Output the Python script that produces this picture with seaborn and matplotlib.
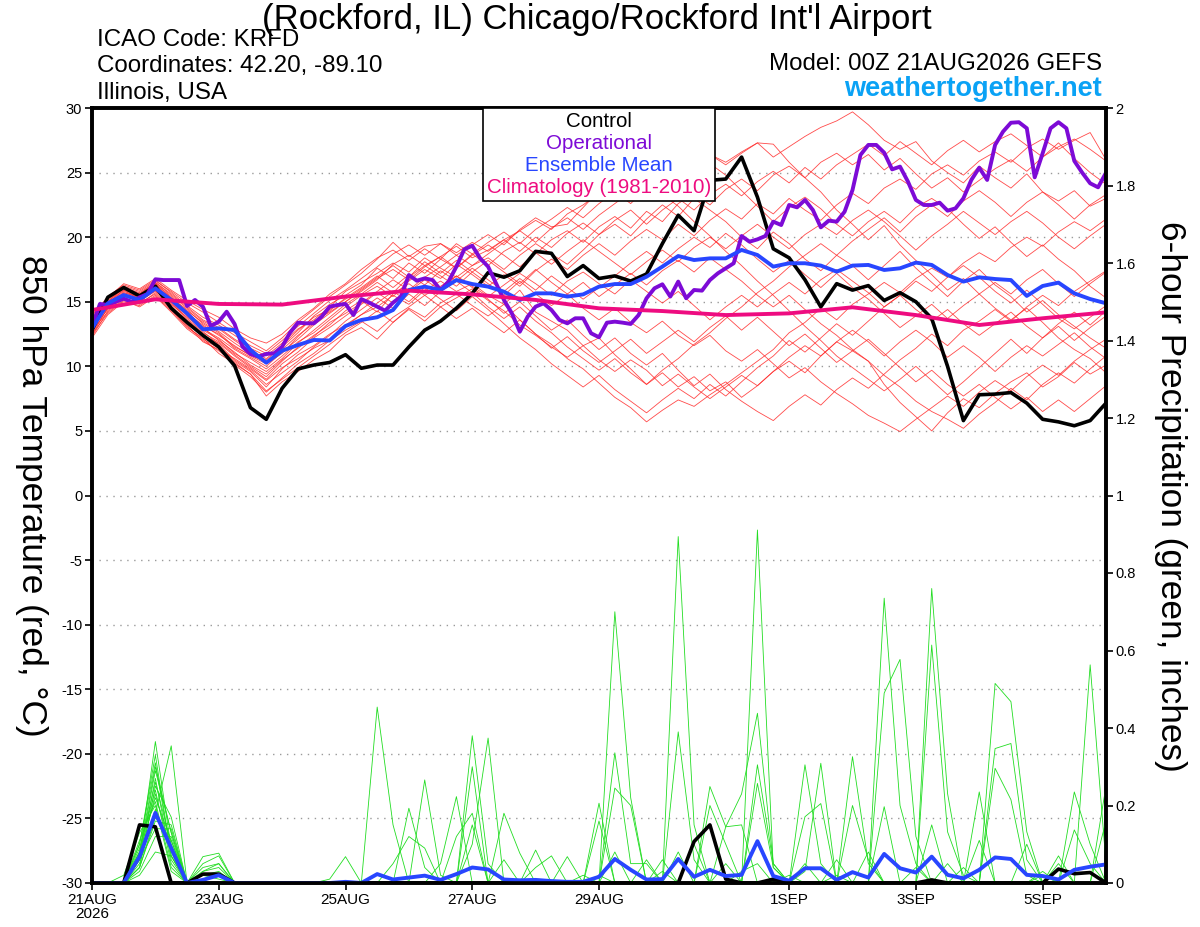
import numpy as np
import pandas as pd
import seaborn as sns
import matplotlib
matplotlib.use('Agg')
import matplotlib.pyplot as plt
from matplotlib.ticker import FormatStrFormatter
from matplotlib.offsetbox import TextArea, VPacker, AnchoredOffsetbox

# forecast hours
hours = list(range(0, 385, 6))
op_hours = list(range(0, 385, 3))
clim_hours = list(range(0, 385, 24))

tick_hours = [0, 48, 96, 144, 192, 264, 312, 360]
tick_labels = ['21AUG\n2026', '23AUG', '25AUG', '27AUG', '29AUG', '1SEP', '3SEP', '5SEP']

# 850 hPa temperature, control run (6-hourly)
control_t = [12.8, 15.35, 16.1, 15.45, 16.2, 14.5, 13.4, 12.4, 11.5,
             10.05, 6.8, 5.9, 8.3, 9.8, 10.1, 10.3, 10.9,
             9.85, 10.1, 10.1, 11.5, 12.8, 13.5, 14.5, 15.65,
             17.25, 16.9, 17.4, 18.9, 18.75, 16.95, 17.8, 16.8,
             17.0, 16.6, 17.15, 19.5, 21.7, 20.5, 24.4, 24.5,
             26.2, 23.1, 19.1, 18.4, 16.7, 14.6, 16.4, 15.9,
             16.25, 15.1, 15.7, 15.0, 13.7, 10.0, 5.8, 7.8,
             7.85, 7.97, 7.15, 5.9, 5.7, 5.4, 5.8, 7.15]

# ensemble mean temperature
mean_t = [12.94, 14.88, 15.52, 15.14, 16.04, 15.14, 14.1, 12.87, 12.94,
          12.81, 11.27, 10.28, 11.21, 11.65, 12.04, 12.0, 13.12,
          13.59, 13.8, 14.36, 15.91, 16.17, 15.91, 16.68, 16.37,
          16.17, 15.78, 15.14, 15.65, 15.65, 15.4, 15.57, 16.17,
          16.37, 16.37, 16.94, 17.72, 18.54, 18.23, 18.36, 18.36,
          19.01, 18.62, 17.72, 17.98, 17.98, 17.8, 17.33, 17.8,
          17.85, 17.46, 17.59, 18.03, 17.85, 17.07, 16.56, 16.89,
          16.76, 16.68, 15.45, 16.22, 16.48, 15.65, 15.21, 14.88]

# operational run (3-hourly)
oper_t = [13.07, 14.83, 14.75, 15.0, 15.24, 15.0, 15.34, 15.6, 16.74, 16.68,
          16.68, 16.68, 14.67, 15.14, 14.62, 13.12, 13.46, 14.23, 13.28, 11.52,
          10.96, 10.75, 10.96, 11.01, 11.52, 12.61, 13.38, 13.33, 13.33, 13.85,
          14.62, 14.75, 14.83, 13.97, 15.21, 14.93, 14.62, 14.31, 14.93, 15.4,
          17.07, 16.63, 16.81, 16.68, 15.91, 16.56, 17.72, 19.06, 19.34, 18.36,
          17.72, 16.43, 15.14, 14.1, 12.68, 13.85, 14.62, 14.88, 14.36, 13.59,
          13.33, 13.72, 13.72, 12.56, 12.25, 13.38, 13.46, 13.38, 13.28, 13.97,
          15.27, 16.04, 16.35, 15.4, 16.56, 15.27, 15.91, 15.86, 16.68, 17.2,
          17.59, 17.98, 20.09, 19.65, 19.83, 20.09, 21.2, 20.94, 22.49, 22.31,
          22.88, 22.1, 20.76, 21.28, 21.2, 21.97, 23.65, 26.36, 27.14, 27.14,
          26.54, 25.25, 25.46, 24.3, 22.88, 22.49, 22.49, 22.67, 22.05, 22.23,
          23.01, 24.43, 25.38, 24.43, 27.14, 28.17, 28.86, 28.9, 28.43, 24.63,
          26.49, 28.43, 28.9, 28.43, 25.9, 24.99, 24.17, 23.86, 24.99]

# climatology 1981-2010 (daily)
clim_t = [14.36, 15.19, 14.83, 14.78, 15.4, 15.86, 15.57, 15.14, 14.49,
          14.28, 13.97, 14.1, 14.57, 13.97, 13.2, 13.72, 14.18]

# ensemble members, temperature
m01 = [13.0, 14.8, 15.8, 15.4, 16.3, 15.2, 14.1, 13.2, 12.4,
       11.6, 10.8, 10.2, 11.0, 12.3, 13.5, 14.2, 15.0,
       15.8, 16.7, 17.9, 18.6, 17.8, 18.5, 19.3, 18.4,
       19.0, 19.8, 20.5, 21.3, 20.6, 21.8, 22.5, 23.4,
       22.8, 24.1, 23.5, 25.0, 24.2, 25.6, 26.4, 25.8,
       26.6, 27.3, 26.2, 27.0, 27.8, 28.5, 29.0, 29.7,
       28.7, 27.5, 26.8, 27.4, 25.9, 25.0, 24.2, 25.5,
       24.6, 23.8, 24.9, 23.5, 22.8, 23.6, 22.4, 23.0]
m02 = [12.6, 14.5, 15.5, 15.0, 15.9, 14.6, 13.5, 12.3, 11.6,
       10.4, 9.6, 8.4, 9.8, 10.9, 11.6, 12.5, 13.2,
       14.0, 14.6, 15.5, 14.8, 15.9, 16.6, 15.8, 16.4,
       15.5, 14.8, 15.9, 14.2, 13.5, 12.8, 11.6, 12.2,
       10.9, 9.8, 8.6, 9.5, 8.4, 9.2, 8.1, 8.8,
       7.6, 8.5, 9.6, 10.4, 9.5, 10.8, 11.9, 11.2,
       10.4, 8.6, 7.2, 6.1, 5.0, 6.4, 7.5, 6.8,
       7.9, 8.8, 9.5, 8.4, 9.2, 10.3, 9.4, 10.1]
m03 = [13.5, 15.0, 16.0, 15.6, 16.5, 15.6, 14.6, 13.6, 13.0,
       12.1, 11.4, 10.8, 11.8, 12.9, 13.6, 14.6, 15.8,
       16.5, 17.2, 18.0, 17.3, 18.4, 17.6, 16.9, 17.8,
       18.4, 17.5, 18.6, 19.5, 18.7, 17.9, 19.0, 20.2,
       21.0, 20.1, 21.4, 22.5, 21.6, 23.0, 22.1, 21.2,
       20.0, 19.1, 20.4, 19.5, 18.3, 17.4, 18.6, 17.8,
       16.7, 17.8, 18.9, 17.6, 16.5, 15.4, 16.6, 17.5,
       16.3, 15.4, 14.2, 15.1, 14.0, 13.1, 12.2, 11.4]
m04 = [12.8, 14.2, 15.2, 14.9, 15.6, 14.4, 13.0, 12.2, 11.0,
       10.2, 9.4, 7.7, 8.8, 9.6, 10.5, 11.2, 12.4,
       13.0, 12.1, 13.4, 14.5, 13.8, 14.9, 15.6, 14.7,
       13.9, 14.8, 13.6, 12.5, 11.7, 10.6, 9.8, 8.7,
       7.6, 6.8, 5.7, 6.6, 7.4, 6.9, 7.8, 8.6,
       9.5, 10.4, 11.3, 12.6, 13.4, 14.5, 13.6, 14.8,
       15.6, 16.5, 15.7, 16.8, 17.6, 16.9, 18.0, 18.8,
       18.1, 19.2, 20.0, 19.3, 20.4, 21.2, 20.5, 21.4]
m05 = [13.8, 15.2, 16.2, 15.8, 16.6, 15.8, 14.9, 14.2, 13.4,
       12.6, 11.9, 11.2, 12.2, 13.4, 14.4, 15.4, 16.3,
       17.2, 18.3, 19.6, 18.5, 19.3, 19.5, 18.6, 19.4,
       20.2, 19.4, 20.6, 21.5, 20.8, 21.0, 22.3, 23.6,
       22.9, 24.5, 23.7, 25.2, 24.3, 25.9, 26.4, 25.6,
       26.5, 27.3, 27.2, 25.8, 24.6, 23.5, 22.1, 21.0,
       19.8, 20.9, 19.4, 18.2, 17.1, 15.9, 16.8, 15.6,
       14.5, 13.6, 14.5, 13.4, 12.2, 11.3, 10.6, 9.5]
m06 = [12.4, 14.6, 15.6, 15.2, 16.0, 14.9, 13.6, 12.6, 11.9,
       10.9, 10.0, 9.2, 10.4, 11.5, 12.4, 13.2, 14.3,
       15.1, 14.2, 15.6, 16.4, 15.5, 16.2, 17.0, 16.1,
       15.2, 14.1, 15.0, 13.9, 12.8, 13.6, 12.4, 11.3,
       12.2, 11.0, 10.1, 11.0, 9.7, 8.5, 9.4, 8.2,
       7.3, 6.5, 5.8, 6.9, 7.8, 7.0, 8.2, 9.1,
       8.3, 9.4, 10.5, 11.4, 12.5, 11.6, 12.8, 13.5,
       14.4, 13.5, 14.6, 15.5, 14.7, 15.8, 16.6, 17.4]
m07 = [13.2, 14.9, 15.9, 15.5, 16.4, 15.3, 14.3, 13.4, 12.7,
       11.8, 11.0, 10.5, 11.5, 12.6, 13.9, 14.8, 15.5,
       16.3, 17.6, 16.8, 18.0, 17.2, 18.3, 17.6, 18.7,
       17.8, 18.9, 19.6, 18.7, 19.8, 20.5, 19.6, 20.8,
       21.6, 20.7, 22.0, 21.2, 22.6, 23.4, 22.5, 23.7,
       24.5, 23.6, 24.8, 25.5, 24.6, 25.8, 26.5, 25.6,
       26.4, 25.2, 26.1, 24.9, 23.8, 24.6, 23.5, 24.4,
       25.3, 26.0, 25.1, 26.2, 27.0, 27.6, 26.8, 25.9]
m08 = [13.0, 14.4, 15.4, 15.1, 15.8, 14.8, 13.8, 12.9, 12.2,
       11.3, 10.6, 9.8, 10.8, 11.9, 12.6, 13.6, 14.6,
       15.5, 16.2, 15.4, 16.6, 17.5, 16.8, 17.9, 17.1,
       16.2, 17.1, 16.2, 17.4, 18.3, 17.5, 18.6, 19.5,
       18.6, 19.7, 20.6, 19.8, 21.0, 20.1, 21.3, 22.2,
       21.4, 22.6, 21.8, 23.0, 22.1, 21.3, 22.5, 23.4,
       22.6, 23.8, 24.5, 23.7, 24.9, 25.6, 24.8, 25.9,
       26.6, 25.8, 26.9, 27.6, 26.8, 27.5, 28.1, 26.0]
m09 = [12.9, 14.7, 15.7, 15.3, 16.1, 15.0, 13.9, 12.8, 12.1,
       11.0, 10.3, 9.6, 10.6, 11.8, 12.8, 13.8, 14.8,
       15.6, 16.5, 15.7, 16.9, 17.8, 17.0, 16.2, 17.3,
       16.4, 15.5, 16.6, 15.6, 14.7, 15.6, 14.5, 13.6,
       14.5, 13.4, 12.6, 13.5, 12.4, 11.6, 12.4, 11.2,
       10.4, 11.3, 10.2, 9.1, 9.9, 8.8, 7.9, 7.1,
       6.2, 5.6, 4.95, 5.9, 6.8, 7.7, 6.9, 8.0,
       8.9, 8.1, 9.2, 10.1, 9.3, 10.4, 11.3, 12.1]
m10 = [13.6, 15.1, 16.1, 15.7, 16.5, 15.5, 14.5, 13.5, 12.9,
       12.0, 11.2, 10.6, 11.6, 12.8, 13.8, 14.4, 15.2,
       16.0, 16.9, 17.8, 16.9, 18.1, 17.2, 18.2, 17.3,
       18.2, 17.3, 16.4, 17.5, 16.5, 15.6, 16.5, 15.4,
       16.3, 17.2, 16.3, 17.4, 18.2, 17.3, 18.4, 17.5,
       16.6, 15.5, 14.6, 15.5, 14.4, 13.3, 12.4, 11.3,
       10.4, 9.3, 8.4, 7.3, 6.5, 5.9, 5.2, 6.3,
       7.2, 8.3, 7.4, 8.6, 9.5, 8.7, 9.8, 10.8]
m11 = [13.3, 14.6, 15.6, 15.0, 15.9, 14.7, 13.4, 12.4, 11.8,
       10.8, 9.9, 9.0, 10.2, 11.1, 12.2, 13.0, 13.9,
       14.8, 15.7, 14.9, 15.8, 16.7, 15.9, 17.0, 16.2,
       15.4, 16.3, 17.2, 16.4, 15.5, 16.6, 17.3, 16.4,
       15.6, 16.7, 15.8, 14.9, 15.8, 14.7, 13.6, 14.6,
       15.5, 14.6, 15.6, 16.5, 15.6, 16.7, 17.5, 16.6,
       15.7, 14.6, 15.5, 14.4, 13.5, 14.4, 13.3, 12.4,
       13.3, 14.2, 13.1, 12.2, 13.1, 12.0, 13.0, 13.9]
m12 = [14.0, 15.3, 16.4, 16.0, 16.8, 15.9, 15.1, 14.4, 13.8,
       12.9, 12.2, 11.8, 12.5, 13.6, 14.5, 15.6, 16.4,
       17.5, 18.4, 19.0, 18.2, 19.1, 18.3, 19.5, 18.7,
       19.6, 20.4, 19.5, 20.6, 21.4, 22.3, 21.5, 22.6,
       23.5, 22.6, 23.8, 24.6, 23.7, 24.9, 25.7, 24.8,
       23.6, 22.4, 21.2, 22.3, 23.1, 22.2, 21.0, 20.1,
       21.2, 22.0, 21.1, 22.3, 23.0, 22.2, 21.0, 19.9,
       20.8, 19.6, 18.5, 19.4, 18.3, 17.4, 16.2, 15.3]
m13 = [12.3, 14.3, 15.3, 14.8, 15.7, 14.5, 13.2, 11.9, 11.3,
       10.6, 9.8, 8.9, 9.9, 10.6, 11.4, 12.0, 12.8,
       13.5, 12.7, 13.8, 14.6, 15.5, 14.6, 15.3, 16.0,
       15.1, 14.3, 13.2, 12.4, 11.5, 10.7, 11.6, 10.5,
       9.6, 10.5, 9.7, 8.5, 9.4, 8.4, 7.5, 8.4,
       9.3, 8.5, 9.6, 10.7, 11.6, 10.8, 11.9, 12.8,
       11.9, 10.8, 11.9, 12.8, 11.9, 10.7, 11.6, 10.7,
       9.6, 10.7, 11.6, 10.8, 11.7, 12.6, 11.5, 10.6]
m14 = [13.7, 15.0, 16.1, 15.6, 16.4, 15.4, 14.2, 13.1, 12.5,
       11.4, 10.7, 10.0, 11.1, 12.1, 13.2, 14.1, 15.0,
       15.9, 16.8, 17.5, 16.7, 17.7, 18.5, 17.6, 18.6,
       19.4, 18.6, 17.7, 18.8, 17.9, 18.9, 19.8, 18.9,
       18.0, 17.1, 18.1, 19.0, 18.1, 19.2, 20.0, 19.1,
       20.1, 21.0, 20.0, 19.1, 20.2, 21.0, 20.2, 21.3,
       22.1, 21.2, 20.1, 19.0, 20.1, 21.0, 22.0, 21.1,
       20.2, 21.2, 22.0, 21.1, 20.0, 19.1, 20.1, 21.0]
m15 = [12.7, 14.9, 15.9, 15.2, 16.2, 15.1, 14.0, 13.0, 12.0,
       11.1, 10.1, 9.4, 10.5, 11.4, 12.3, 13.4, 14.1,
       14.9, 15.8, 16.7, 15.9, 16.9, 17.7, 18.6, 17.8,
       18.7, 19.6, 20.5, 19.6, 20.7, 21.5, 20.6, 21.7,
       22.6, 23.5, 24.4, 23.3, 22.4, 21.2, 20.1, 18.9,
       17.8, 16.6, 15.5, 14.3, 13.1, 12.0, 10.8, 9.9,
       9.0, 8.1, 9.0, 10.0, 8.9, 7.8, 8.8, 9.9,
       11.0, 12.1, 11.0, 12.2, 13.3, 14.2, 13.2, 14.3]
m16 = [13.4, 14.5, 15.5, 15.3, 16.0, 15.0, 13.7, 12.7, 11.7,
       10.5, 9.7, 8.6, 9.5, 10.4, 11.5, 12.4, 13.5,
       14.4, 15.3, 14.5, 15.6, 14.7, 15.8, 16.6, 15.7,
       14.6, 13.7, 14.6, 13.5, 12.6, 11.5, 10.6, 9.7,
       10.6, 9.5, 8.6, 9.7, 10.6, 11.7, 12.6, 13.7,
       14.6, 15.7, 16.6, 17.7, 18.6, 19.5, 18.6, 19.7,
       20.6, 21.5, 20.4, 21.6, 22.5, 21.6, 22.8, 23.6,
       22.7, 21.6, 22.7, 23.5, 22.5, 21.4, 22.5, 23.3]
m17 = [12.5, 14.1, 15.1, 14.6, 15.4, 14.2, 12.9, 12.0, 11.2,
       10.3, 9.4, 8.1, 9.0, 9.9, 10.8, 11.7, 12.6,
       13.4, 14.3, 13.4, 14.4, 13.5, 14.6, 13.7, 14.5,
       13.5, 12.6, 13.6, 12.5, 11.4, 12.3, 11.2, 10.3,
       11.2, 12.1, 11.0, 11.9, 12.8, 11.9, 13.0, 13.9,
       12.8, 13.8, 12.7, 11.6, 12.5, 11.4, 10.3, 11.2,
       12.1, 11.0, 9.9, 8.8, 9.7, 8.6, 7.7, 8.6,
       7.6, 6.7, 7.6, 6.5, 7.4, 6.5, 7.5, 8.5]
m18 = [13.9, 15.4, 16.3, 15.9, 16.7, 15.7, 14.7, 13.8, 13.2,
       12.4, 11.6, 11.0, 12.0, 13.1, 14.1, 15.1, 15.9,
       16.8, 17.7, 18.7, 19.4, 18.6, 19.5, 18.8, 19.6,
       18.9, 19.8, 18.9, 20.0, 19.2, 20.3, 21.1, 20.2,
       21.3, 22.1, 21.0, 22.1, 23.0, 22.1, 23.3, 24.1,
       23.2, 24.3, 25.1, 24.2, 25.4, 24.5, 25.6, 26.4,
       27.2, 26.3, 27.4, 26.5, 25.6, 26.7, 27.5, 26.6,
       27.4, 28.0, 27.1, 26.2, 27.3, 26.1, 25.0, 24.1]
m19 = [13.1, 14.7, 15.7, 15.4, 16.2, 15.3, 14.4, 13.3, 12.6,
       11.5, 10.9, 10.3, 11.3, 12.4, 13.3, 14.3, 15.3,
       16.1, 17.0, 16.1, 17.1, 16.3, 17.4, 16.6, 17.6,
       16.7, 15.8, 16.8, 15.9, 17.0, 16.1, 15.2, 16.1,
       17.0, 18.0, 18.9, 18.0, 19.1, 20.0, 19.2, 20.3,
       19.4, 18.3, 17.3, 18.2, 17.1, 16.1, 17.2, 16.1,
       15.2, 14.1, 13.0, 13.9, 14.8, 13.7, 14.7, 15.6,
       16.5, 15.6, 16.7, 17.5, 16.4, 15.4, 16.4, 17.3]
m20 = [12.2, 14.0, 15.0, 14.7, 15.5, 14.3, 13.1, 12.1, 11.4,
       10.1, 9.2, 8.0, 9.1, 10.2, 11.0, 12.0, 13.1,
       14.0, 14.9, 15.8, 15.0, 16.1, 15.2, 14.3, 15.4,
       14.4, 13.3, 12.2, 11.3, 10.2, 9.3, 8.4, 9.3,
       8.2, 7.3, 6.4, 7.4, 8.3, 7.5, 8.6, 7.7,
       8.8, 9.9, 10.8, 12.0, 11.1, 12.2, 13.3, 12.4,
       13.5, 14.6, 15.5, 16.6, 15.8, 16.9, 17.8, 16.9,
       15.8, 14.9, 15.9, 14.8, 13.7, 12.9, 13.8, 14.7]
members_t = [m01, m02, m03, m04, m05, m06, m07, m08, m09, m10,
             m11, m12, m13, m14, m15, m16, m17, m18, m19, m20]

# 6-hour precipitation (inches)
control_p = [0, 0, 0, 0.15, 0.145, 0, 0, 0.023, 0.023,
             0, 0, 0, 0, 0, 0, 0, 0,
             0, 0, 0, 0, 0, 0, 0, 0,
             0, 0, 0, 0, 0, 0, 0, 0,
             0, 0, 0, 0, 0, 0.107, 0.15, 0.01,
             0, 0, 0.01, 0, 0, 0, 0, 0,
             0, 0, 0, 0, 0.008, 0, 0, 0,
             0, 0, 0, 0, 0.036, 0.024, 0.027, 0]
mean_p = [0, 0, 0, 0.068, 0.181, 0.09, 0, 0.008, 0.02,
          0, 0, 0, 0, 0, 0, 0, 0.003,
          0, 0.023, 0.009, 0.014, 0.019, 0.008, 0.023, 0.04,
          0.035, 0.009, 0.007, 0.008, 0.005, 0.003, 0.003, 0.016,
          0.062, 0.034, 0.009, 0.010, 0.062, 0.016, 0.034, 0.018,
          0.021, 0.108, 0.018, 0.006, 0.038, 0.038, 0.008, 0.028,
          0.014, 0.075, 0.038, 0.027, 0.068, 0.021, 0.012, 0.034,
          0.066, 0.062, 0.021, 0.018, 0.009, 0.034, 0.042, 0.048]

p01 = [0, 0, 0, 0.07, 0.365, 0.09, 0, 0, 0,
       0, 0, 0, 0, 0, 0, 0, 0,
       0, 0, 0, 0, 0, 0, 0, 0.38,
       0.05, 0, 0, 0, 0, 0, 0, 0,
       0.336, 0.05, 0.05, 0, 0, 0, 0, 0,
       0, 0, 0, 0, 0, 0, 0, 0,
       0.08, 0, 0, 0, 0, 0, 0, 0,
       0.296, 0.215, 0.02, 0, 0, 0, 0, 0]
p02 = [0, 0, 0.02, 0.13, 0.2, 0.03, 0, 0.05, 0.07,
       0, 0, 0, 0, 0, 0, 0, 0,
       0, 0, 0, 0, 0, 0, 0, 0,
       0, 0, 0, 0.085, 0, 0, 0, 0,
       0, 0, 0, 0, 0, 0, 0, 0,
       0.03, 0.05, 0, 0, 0, 0, 0.06, 0,
       0, 0.49, 0.577, 0.12, 0, 0, 0, 0,
       0, 0, 0, 0, 0, 0, 0, 0]
p03 = [0, 0, 0, 0.06, 0.18, 0.354, 0, 0, 0,
       0, 0, 0, 0, 0, 0, 0, 0,
       0, 0, 0, 0.193, 0.04, 0, 0, 0,
       0, 0, 0, 0, 0, 0, 0, 0.02,
       0, 0, 0, 0, 0, 0, 0.2, 0.1,
       0, 0, 0, 0, 0, 0, 0, 0,
       0, 0, 0, 0, 0.15, 0, 0.04, 0,
       0, 0, 0, 0, 0, 0, 0, 0]
p04 = [0, 0, 0, 0.08, 0.3, 0.13, 0, 0.02, 0.01,
       0, 0, 0, 0, 0, 0, 0, 0,
       0, 0, 0, 0, 0, 0, 0, 0.15,
       0, 0, 0, 0, 0, 0, 0, 0,
       0, 0, 0, 0, 0.894, 0.15, 0, 0,
       0, 0, 0, 0, 0, 0, 0, 0,
       0, 0, 0, 0, 0, 0, 0, 0,
       0, 0, 0.1, 0, 0, 0, 0, 0.16]
p05 = [0, 0, 0, 0.04, 0.25, 0.17, 0, 0, 0,
       0, 0, 0, 0, 0, 0, 0.01, 0.068,
       0, 0, 0, 0, 0, 0, 0, 0,
       0, 0, 0, 0, 0, 0, 0.02, 0,
       0, 0, 0, 0, 0, 0, 0, 0,
       0, 0, 0, 0, 0, 0, 0, 0.326,
       0.05, 0, 0, 0, 0, 0, 0, 0,
       0, 0, 0, 0, 0.05, 0, 0, 0]
p06 = [0, 0, 0, 0.1, 0.33, 0.07, 0, 0.068, 0.077,
       0, 0, 0, 0, 0, 0, 0, 0,
       0, 0, 0, 0, 0, 0, 0, 0,
       0, 0, 0, 0, 0, 0, 0, 0.206,
       0, 0, 0, 0, 0, 0, 0, 0,
       0, 0.305, 0.05, 0, 0, 0, 0, 0,
       0, 0, 0, 0, 0, 0, 0, 0,
       0, 0, 0, 0.03, 0, 0, 0, 0]
p07 = [0, 0, 0, 0.04, 0.16, 0.15, 0, 0, 0,
       0, 0, 0, 0, 0, 0, 0, 0,
       0, 0.454, 0.15, 0, 0, 0, 0, 0,
       0, 0, 0, 0, 0, 0, 0, 0,
       0, 0, 0, 0, 0, 0, 0, 0,
       0, 0, 0, 0.02, 0, 0, 0, 0,
       0, 0, 0, 0, 0.614, 0.132, 0.02, 0,
       0, 0, 0, 0, 0, 0, 0, 0]
p08 = [0, 0, 0, 0.08, 0.22, 0.11, 0, 0, 0,
       0, 0, 0, 0, 0, 0, 0, 0,
       0, 0, 0, 0, 0, 0, 0, 0,
       0, 0.18, 0.077, 0, 0, 0, 0, 0,
       0, 0, 0, 0, 0, 0, 0, 0,
       0, 0, 0, 0, 0.305, 0.05, 0, 0,
       0, 0, 0, 0, 0, 0, 0, 0,
       0, 0, 0, 0, 0, 0, 0, 0]
p09 = [0, 0, 0, 0.06, 0.27, 0.06, 0, 0.03, 0.04,
       0, 0, 0, 0, 0, 0, 0, 0,
       0, 0, 0.05, 0.12, 0.09, 0, 0, 0,
       0, 0, 0, 0, 0, 0, 0, 0,
       0.7, 0.22, 0, 0, 0, 0, 0, 0,
       0, 0, 0, 0, 0, 0, 0.02, 0,
       0, 0, 0, 0, 0, 0, 0, 0,
       0, 0, 0, 0.02, 0, 0, 0, 0]
p10 = [0, 0, 0, 0.03, 0.12, 0.12, 0, 0, 0,
       0, 0, 0, 0, 0, 0, 0, 0,
       0, 0, 0, 0, 0, 0, 0, 0.1,
       0.374, 0, 0, 0, 0, 0, 0, 0,
       0, 0, 0, 0.03, 0, 0, 0, 0,
       0, 0, 0, 0, 0, 0, 0, 0.2,
       0.06, 0, 0, 0, 0, 0, 0, 0,
       0.515, 0.468, 0.132, 0, 0, 0, 0, 0]
p11 = [0, 0, 0, 0.09, 0.24, 0.05, 0, 0.02, 0.03,
       0, 0, 0, 0, 0, 0, 0, 0,
       0, 0, 0, 0, 0, 0, 0, 0,
       0, 0.06, 0, 0, 0, 0, 0, 0,
       0, 0, 0, 0, 0.39, 0.06, 0, 0,
       0, 0, 0, 0, 0, 0, 0, 0,
       0, 0, 0, 0.04, 0, 0, 0, 0,
       0, 0, 0, 0, 0, 0.235, 0.1, 0]
p12 = [0, 0, 0, 0.05, 0.19, 0.09, 0, 0, 0,
       0, 0, 0, 0, 0, 0, 0, 0,
       0, 0, 0, 0, 0.266, 0.02, 0, 0,
       0, 0, 0, 0, 0, 0, 0, 0,
       0.08, 0, 0, 0, 0, 0, 0, 0,
       0, 0, 0, 0, 0.171, 0.205, 0, 0,
       0, 0, 0, 0, 0, 0, 0, 0.11,
       0, 0, 0, 0, 0, 0, 0, 0.25]
p13 = [0, 0, 0, 0.07, 0.29, 0.13, 0, 0.03, 0.05,
       0, 0, 0, 0, 0, 0, 0, 0,
       0, 0, 0, 0, 0, 0, 0, 0,
       0, 0, 0, 0.04, 0.07, 0, 0, 0,
       0, 0, 0, 0, 0, 0, 0, 0.145,
       0.23, 0.438, 0.05, 0, 0, 0, 0, 0,
       0, 0, 0, 0, 0, 0, 0, 0,
       0, 0, 0, 0, 0.07, 0, 0, 0]
p14 = [0, 0, 0, 0.11, 0.21, 0.04, 0, 0.04, 0.05,
       0, 0, 0, 0, 0, 0, 0, 0,
       0, 0, 0, 0, 0, 0, 0, 0,
       0, 0, 0, 0, 0, 0, 0, 0.16,
       0, 0, 0, 0, 0, 0, 0, 0.05,
       0, 0, 0, 0, 0, 0, 0, 0,
       0, 0.735, 0.2, 0.05, 0, 0, 0, 0,
       0, 0, 0, 0, 0, 0, 0, 0]
p15 = [0, 0, 0, 0.02, 0.08, 0.07, 0, 0, 0,
       0, 0, 0, 0, 0, 0, 0, 0,
       0, 0, 0, 0, 0, 0.05, 0.223, 0,
       0, 0, 0, 0, 0, 0, 0, 0,
       0, 0, 0.06, 0, 0, 0, 0, 0,
       0, 0.911, 0.04, 0, 0, 0, 0, 0,
       0, 0, 0, 0, 0, 0, 0, 0,
       0, 0, 0, 0, 0, 0, 0, 0]
p16 = [0, 0, 0, 0.08, 0.26, 0.1, 0, 0, 0,
       0, 0, 0, 0, 0, 0, 0, 0,
       0, 0, 0, 0, 0, 0, 0, 0.3,
       0, 0, 0, 0, 0, 0, 0, 0,
       0, 0, 0, 0, 0.08, 0, 0, 0,
       0, 0, 0, 0, 0.05, 0, 0, 0,
       0, 0, 0, 0, 0.76, 0.231, 0, 0,
       0, 0, 0, 0, 0, 0, 0, 0]
p17 = [0, 0, 0, 0.06, 0.14, 0.14, 0, 0, 0,
       0, 0, 0, 0, 0, 0, 0, 0,
       0, 0, 0, 0, 0, 0, 0, 0,
       0, 0, 0, 0, 0, 0.068, 0, 0,
       0, 0, 0, 0, 0, 0.1, 0, 0,
       0, 0, 0, 0, 0.03, 0.309, 0, 0,
       0, 0, 0, 0, 0, 0, 0, 0,
       0.347, 0.36, 0.06, 0, 0, 0, 0, 0]
p18 = [0, 0, 0, 0.1, 0.31, 0.07, 0, 0.01, 0.02,
       0, 0, 0, 0, 0, 0, 0, 0,
       0, 0, 0, 0, 0, 0, 0, 0,
       0, 0, 0, 0, 0, 0, 0, 0,
       0.245, 0.2, 0, 0, 0, 0, 0, 0,
       0, 0, 0, 0, 0, 0, 0, 0,
       0, 0.197, 0, 0, 0, 0, 0, 0,
       0, 0, 0, 0, 0, 0.137, 0.05, 0]
p19 = [0, 0, 0, 0.04, 0.17, 0.11, 0, 0, 0,
       0, 0, 0, 0, 0, 0, 0, 0,
       0, 0, 0, 0, 0, 0, 0.12, 0.18,
       0, 0, 0, 0, 0, 0, 0, 0,
       0, 0, 0, 0, 0, 0, 0, 0,
       0, 0.257, 0.04, 0, 0, 0, 0, 0,
       0, 0, 0, 0, 0, 0, 0, 0.235,
       0, 0, 0, 0, 0, 0, 0, 0]
p20 = [0, 0, 0, 0.06, 0.23, 0.08, 0, 0, 0,
       0, 0, 0, 0, 0, 0, 0, 0,
       0, 0, 0, 0, 0, 0, 0, 0,
       0, 0, 0, 0, 0, 0, 0, 0,
       0, 0, 0, 0.06, 0, 0, 0.249, 0.145,
       0.15, 0, 0, 0, 0, 0, 0, 0,
       0, 0, 0, 0, 0, 0.05, 0, 0,
       0, 0, 0, 0, 0, 0, 0.563, 0.05]
members_p = [p01, p02, p03, p04, p05, p06, p07, p08, p09, p10,
             p11, p12, p13, p14, p15, p16, p17, p18, p19, p20]

legend_labels = ['Control', 'Operational', 'Ensemble Mean', 'Climatology (1981-2010)']

RED = '#ff2a2a'
GREEN = '#22dd22'
PURPLE = '#7d0ad6'
BLUE = '#2846ff'
PINK = '#ee0c80'

# long tables for the ensemble members
rows_t = []
rows_p = []
for k, (mt, mp) in enumerate(zip(members_t, members_p)):
    for h, t, p in zip(hours, mt, mp):
        rows_t.append((k, h, t))
        rows_p.append((k, h, p))
df_t = pd.DataFrame(rows_t, columns=['member', 'hour', 'temp'])
df_p = pd.DataFrame(rows_p, columns=['member', 'hour', 'precip'])

sns.set_theme(style='ticks', rc={'text.color': 'black', 'axes.labelcolor': 'black',
                                 'xtick.color': 'black', 'ytick.color': 'black',
                                 'axes.unicode_minus': False})
plt.rcParams['font.family'] = ['Liberation Sans', 'DejaVu Sans']

fig = plt.figure(figsize=(12, 9.27), dpi=100)
ax = fig.add_axes([92 / 1200, 44 / 927, 1014 / 1200, 775 / 927])
ax2 = ax.twinx()

# temperature
sns.lineplot(data=df_t, x='hour', y='temp', units='member', estimator=None,
             color=RED, linewidth=0.6, alpha=0.85, ax=ax, legend=False)
sns.lineplot(x=hours, y=control_t, color='black', linewidth=2.6, ax=ax)
sns.lineplot(x=op_hours, y=oper_t, color=PURPLE, linewidth=2.8, ax=ax)
sns.lineplot(x=hours, y=mean_t, color=BLUE, linewidth=2.8, ax=ax)
sns.lineplot(x=clim_hours, y=clim_t, color=PINK, linewidth=2.8, ax=ax)

# precipitation
sns.lineplot(data=df_p, x='hour', y='precip', units='member', estimator=None,
             color=GREEN, linewidth=0.6, ax=ax2, legend=False)
sns.lineplot(x=hours, y=control_p, color='black', linewidth=2.6, ax=ax2)
sns.lineplot(x=hours, y=mean_p, color=BLUE, linewidth=2.8, ax=ax2)

ax.set_xlim(0, 384)
ax.set_ylim(-30, 30)
ax2.set_ylim(0, 2)
ax.set_yticks(range(-30, 31, 5))
ax2.set_yticks(np.arange(0, 2.01, 0.2))
ax2.yaxis.set_major_formatter(FormatStrFormatter('%g'))
ax.set_xticks(tick_hours)
ax.set_xticklabels(tick_labels)
ax.set_xlabel('')
ax.set_ylabel('')
ax2.set_ylabel('')

ax.yaxis.grid(True, linestyle=(0, (1, 4)), color='#9a9a9a', linewidth=1.0)
ax.xaxis.grid(False)

for a in (ax, ax2):
    for s in a.spines.values():
        s.set_linewidth(2.6)
        s.set_color('black')
ax.tick_params(axis='y', labelsize=10.5, length=5, width=1.2, direction='out', pad=2, colors='black')
ax.tick_params(axis='x', labelsize=11, length=5, width=1.2, direction='out', pad=2, colors='black')
ax2.tick_params(axis='y', labelsize=10.5, length=5, width=1.2, direction='out', pad=2, colors='black')
for lbl in ax.get_xticklabels():
    lbl.set_linespacing(1.0)

# legend box
items = [TextArea(t, textprops=dict(color=c, fontsize=14.8))
         for t, c in zip(legend_labels, ['black', PURPLE, BLUE, PINK])]
pack = VPacker(children=items, align='center', pad=0, sep=2)
box = AnchoredOffsetbox(loc='upper center', child=pack, pad=0.28, borderpad=0,
                        frameon=True, bbox_to_anchor=(0.5, 1.0),
                        bbox_transform=ax2.transAxes)
box.patch.set_boxstyle('square', pad=0)
box.patch.set_edgecolor('black')
box.patch.set_linewidth(1.2)
box.set_zorder(10)
ax2.add_artist(box)

# header texts
fig.text(0.497, 1 - 19 / 927, "(Rockford, IL) Chicago/Rockford Int'l Airport",
         ha='center', va='center', fontsize=25)
fig.text(97 / 1200, 1 - 40 / 927, 'ICAO Code: KRFD', ha='left', va='center', fontsize=17.4)
fig.text(97 / 1200, 1 - 66 / 927, 'Coordinates: 42.20, -89.10', ha='left', va='center', fontsize=17.4)
fig.text(97 / 1200, 1 - 93 / 927, 'Illinois, USA', ha='left', va='center', fontsize=17.4)
fig.text(1102 / 1200, 1 - 64 / 927, 'Model: 00Z 21AUG2026 GEFS', ha='right', va='center', fontsize=17.4)
fig.text(1102 / 1200, 1 - 89 / 927, 'weathertogether.net', ha='right', va='center',
         fontsize=19.5, fontweight='bold', color='#0aa2f5')

fig.text(31 / 1200, 1 - 496 / 927, '850 hPa Temperature (red, °C)', rotation=270,
         ha='center', va='center', fontsize=25.4)
fig.text(1171 / 1200, 1 - 496 / 927, '6-hour Precipitation (green, inches)', rotation=270,
         ha='center', va='center', fontsize=25.4)

fig.savefig('out.png', dpi=100)
